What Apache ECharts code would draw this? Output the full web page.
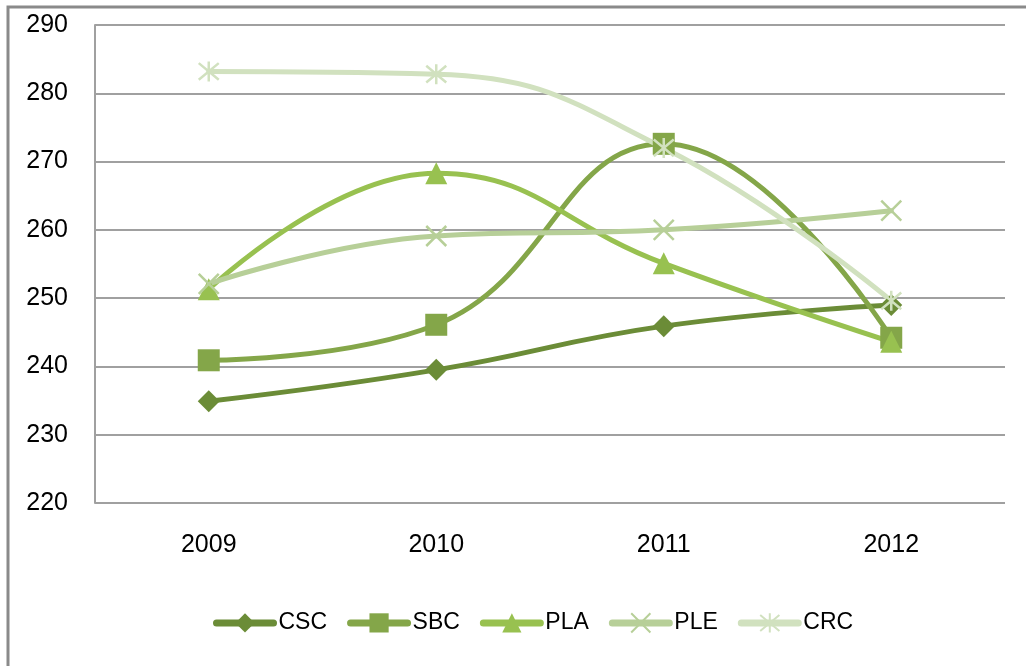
<!DOCTYPE html>
<html>
<head>
<meta charset="utf-8">
<script src="https://cdn.jsdelivr.net/npm/echarts@6/dist/echarts.min.js"></script>
<style>
  html, body { margin: 0; padding: 0; background: #fff; }
  #main { width: 1026px; height: 666px; }
</style>
</head>
<body>
<div id="main"></div>
<script>
// data
var years = ['2009', '2010', '2011', '2012'];
var seriesNames = ['CSC', 'SBC', 'PLA', 'PLE', 'CRC'];
var csc = [234.9, 239.5, 245.9, 249.0];
var sbc = [240.9, 246.1, 272.6, 244.2];
var pla = [251.3, 268.3, 255.1, 243.6];
var ple = [252.1, 259.1, 260.0, 262.8];
var crc = [283.2, 282.8, 272.0, 249.6];

var colors = ['#6b8c37', '#84a649', '#98c150', '#b7cf98', '#d1e1bf'];

var crossPath = 'path://M0,0L10,10M10,0L0,10';
var starPath = 'path://M0,0L10,10M10,0L0,10M5,-1L5,11';

var myChart = echarts.init(document.getElementById('main'));

function line(name, data, color, symbol, size, stroked) {
    var s = {
        name: name,
        type: 'line',
        data: data,
        smooth: 0.45,
        symbol: symbol,
        symbolSize: size,
        lineStyle: {color: color, width: 5, cap: 'round'},
        itemStyle: {color: color}
    };
    if (stroked) {
        s.itemStyle = {color: 'none', borderColor: color, borderWidth: 2.5};
    }
    return s;
}

var option = {
    backgroundColor: '#fff',
    animation: false,
    color: colors,
    textStyle: {fontFamily: 'Liberation Sans', color: '#000'},
    grid: {left: 95, right: 21, top: 25, bottom: 163},
    legend: {
        data: seriesNames,
        bottom: 26,
        left: 208,
        itemWidth: 57,
        itemHeight: 24,
        itemGap: 20,
        lineStyle: {width: 7, cap: 'round'},
        textStyle: {fontSize: 23, color: '#000', padding: [0, 0, 0, 0]}
    },
    xAxis: {
        type: 'category',
        data: years,
        boundaryGap: true,
        axisLine: {show: false},
        axisTick: {show: false},
        axisLabel: {fontSize: 25, color: '#000', margin: 30}
    },
    yAxis: {
        type: 'value',
        min: 220,
        max: 290,
        interval: 10,
        axisLine: {show: true, lineStyle: {color: '#a0a0a0', width: 2}},
        axisTick: {show: false},
        axisLabel: {fontSize: 25, color: '#000', margin: 27},
        splitLine: {lineStyle: {color: '#a0a0a0', width: 2}}
    },
    graphic: [{
        type: 'polyline',
        shape: {points: [[8, 666], [8, 7], [1026, 7]]},
        style: {stroke: '#8a8a8a', lineWidth: 3, fill: null}
    }],
    series: [
        line('CSC', csc, colors[0], 'diamond', 22, false),
        line('SBC', sbc, colors[1], 'rect', 22, false),
        line('PLA', pla, colors[2], 'triangle', 22, false),
        line('PLE', ple, colors[3], crossPath, 20, true),
        line('CRC', crc, colors[4], starPath, 20, true)
    ]
};

myChart.setOption(option);
</script>
</body>
</html>
